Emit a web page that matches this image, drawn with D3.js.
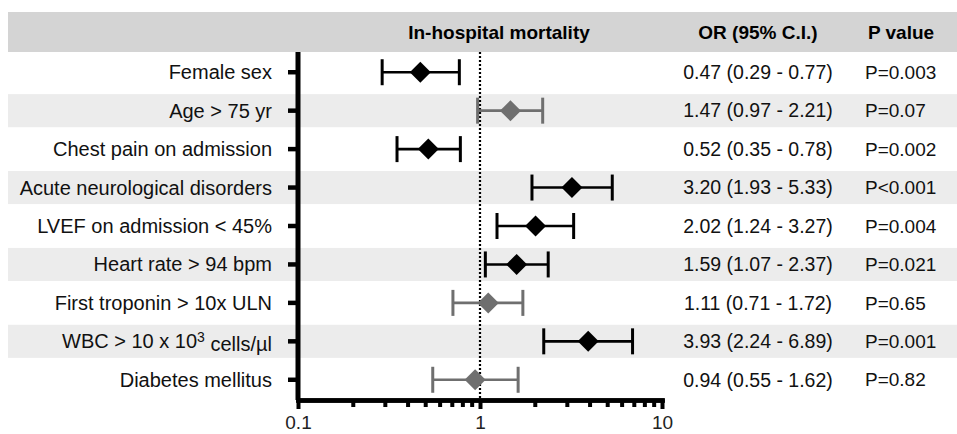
<!DOCTYPE html>
<html>
<head>
<meta charset="utf-8">
<script src="https://cdn.jsdelivr.net/npm/d3@7"></script>
<style>
  body { margin: 0; background: #fff; }
  svg text { font-family: "Liberation Sans", Arial, sans-serif; }
</style>
</head>
<body>
<div id="chart"></div>
<script>
// data
var factors = ["Female sex", "Age > 75 yr", "Chest pain on admission", "Acute neurological disorders",
  "LVEF on admission < 45%", "Heart rate > 94 bpm", "First troponin > 10x ULN",
  "WBC > 10 x 10^3 cells/µl", "Diabetes mellitus"];
var oddsRatio = [0.47, 1.47, 0.52, 3.20, 2.02, 1.59, 1.11, 3.93, 0.94];
var ciLower   = [0.29, 0.97, 0.35, 1.93, 1.24, 1.07, 0.71, 2.24, 0.55];
var ciUpper   = [0.77, 2.21, 0.78, 5.33, 3.27, 2.37, 1.72, 6.89, 1.62];
var pValues   = ["P=0.003", "P=0.07", "P=0.002", "P<0.001", "P=0.004", "P=0.021", "P=0.65", "P=0.001", "P=0.82"];
var significant = [true, false, true, true, true, true, false, true, false];
var xTickMajor = [0.1, 1, 10];
var xTickMinor = [0.2, 0.3, 0.4, 0.5, 0.6, 0.7, 0.8, 0.9, 2, 3, 4, 5, 6, 7, 8, 9];

var width = 957, height = 434;
var fontSize = 19;

var svg = d3.select("#chart")
  .append("svg")
  .attr("width", width)
  .attr("height", height);

var rows = factors.map(function(f, i) {
  return { name: f, or: oddsRatio[i], lo: ciLower[i], hi: ciUpper[i], p: pValues[i], sig: significant[i], i: i };
});

// scales
var xScale = d3.scaleLog().domain([0.1, 10]).range([298, 662]);
var yScale = d3.scaleBand().domain(factors).range([53, 399]);
var cy = function(d) { return yScale(d.name) + yScale.bandwidth() / 2; };

// header band
svg.append("rect")
  .attr("x", 8).attr("y", 12)
  .attr("width", width - 8).attr("height", 40)
  .attr("fill", "#d4d4d4");

// alternate row shading
var bandH = yScale.bandwidth() * 0.86;
svg.selectAll(".rowBand")
  .data(rows.filter(function(d) { return d.i % 2 === 1; }))
  .enter().append("rect")
  .attr("class", "rowBand")
  .attr("x", 8)
  .attr("y", function(d) { return cy(d) - bandH / 2; })
  .attr("width", width - 8)
  .attr("height", bandH)
  .attr("fill", "#ececec");

// header texts
var headers = [
  { t: "In-hospital mortality", x: 499 },
  { t: "OR (95% C.I.)", x: 758 },
  { t: "P value", x: 901 }
];
svg.selectAll(".head")
  .data(headers)
  .enter().append("text")
  .attr("x", function(d) { return d.x; })
  .attr("y", 32)
  .attr("dy", "0.35em")
  .attr("text-anchor", "middle")
  .style("font-size", fontSize + "px")
  .style("font-weight", "bold")
  .text(function(d) { return d.t; });

// reference line at OR = 1
svg.append("line")
  .attr("x1", xScale(1)).attr("x2", xScale(1))
  .attr("y1", 52).attr("y2", 399)
  .attr("stroke", "#000")
  .attr("stroke-width", 2.2)
  .attr("stroke-dasharray", "2,2");

// x axis: minor ticks then major ticks with labels
var xAxisG = svg.append("g").attr("transform", "translate(0,400)");
xAxisG.append("g")
  .call(d3.axisBottom(xScale).tickValues(xTickMinor).tickSize(7).tickSizeOuter(0).tickFormat(""));
xAxisG.append("g")
  .call(d3.axisBottom(xScale).tickValues(xTickMajor).tickSize(9).tickSizeOuter(0).tickFormat(d3.format("")))
  .selectAll("text")
  .attr("y", 16)
  .style("font-size", fontSize + "px")
  .attr("fill", "#222");
xAxisG.selectAll(".domain").attr("stroke-width", 4.5).attr("stroke", "#000").attr("stroke-linecap", "square");
xAxisG.selectAll(".tick line").attr("stroke-width", 4).attr("stroke", "#000");

// y axis
var yAxisG = svg.append("g").attr("transform", "translate(" + xScale(0.1) + ",0)");
yAxisG.call(d3.axisLeft(yScale).tickSize(10).tickSizeOuter(0).tickFormat(""));
yAxisG.select(".domain").attr("stroke-width", 5).attr("stroke", "#000").attr("d", "M0,52V400");
yAxisG.selectAll(".tick line").attr("stroke-width", 4.5).attr("stroke", "#000");

// factor labels (right aligned), WBC gets a superscript
var labelG = svg.selectAll(".factor")
  .data(rows)
  .enter().append("text")
  .attr("class", "factor")
  .attr("x", 272)
  .attr("y", function(d) { return cy(d); })
  .attr("dy", "0.35em")
  .attr("text-anchor", "end")
  .attr("fill", "#111")
  .style("font-size", "20px");
labelG.each(function(d) {
  var el = d3.select(this);
  var parts = d.name.split("^");
  if (parts.length === 1) { el.text(d.name); return; }
  var sup = parts[1].match(/^(\S+)(.*)$/);
  el.append("tspan").text(parts[0]);
  el.append("tspan").attr("dy", "-0.45em").style("font-size", "14px").text(sup[1]);
  el.append("tspan").attr("dy", "0.45em").text(sup[2]);
});

// confidence intervals
var colorOf = function(d) { return d.sig ? "#000" : "#6f6f6f"; };
var ci = svg.selectAll(".ci")
  .data(rows)
  .enter().append("g")
  .attr("class", "ci");
ci.append("line")
  .attr("x1", function(d) { return xScale(d.lo); })
  .attr("x2", function(d) { return xScale(d.hi); })
  .attr("y1", cy).attr("y2", cy)
  .attr("stroke", colorOf)
  .attr("stroke-width", 2.6);
[["lo"], ["hi"]].forEach(function(k) {
  ci.append("line")
    .attr("x1", function(d) { return xScale(d[k[0]]); })
    .attr("x2", function(d) { return xScale(d[k[0]]); })
    .attr("y1", function(d) { return cy(d) - 13; })
    .attr("y2", function(d) { return cy(d) + 13; })
    .attr("stroke", colorOf)
    .attr("stroke-width", 3);
});

// diamonds
ci.append("path")
  .attr("d", d3.symbol(d3.symbolSquare, 220))
  .attr("transform", function(d) { return "translate(" + xScale(d.or) + "," + cy(d) + ") rotate(45)"; })
  .attr("fill", colorOf);

// OR column and P column
var fmt = d3.format(".2f");
svg.selectAll(".orText")
  .data(rows)
  .enter().append("text")
  .attr("x", 758)
  .attr("y", cy)
  .attr("dy", "0.35em")
  .attr("text-anchor", "middle")
  .attr("fill", "#111")
  .style("font-size", "19.5px")
  .text(function(d) { return fmt(d.or) + " (" + fmt(d.lo) + " - " + fmt(d.hi) + ")"; });

svg.selectAll(".pText")
  .data(rows)
  .enter().append("text")
  .attr("x", 865)
  .attr("y", cy)
  .attr("dy", "0.35em")
  .attr("fill", "#111")
  .style("font-size", fontSize + "px")
  .text(function(d) { return d.p; });
</script>
</body>
</html>
